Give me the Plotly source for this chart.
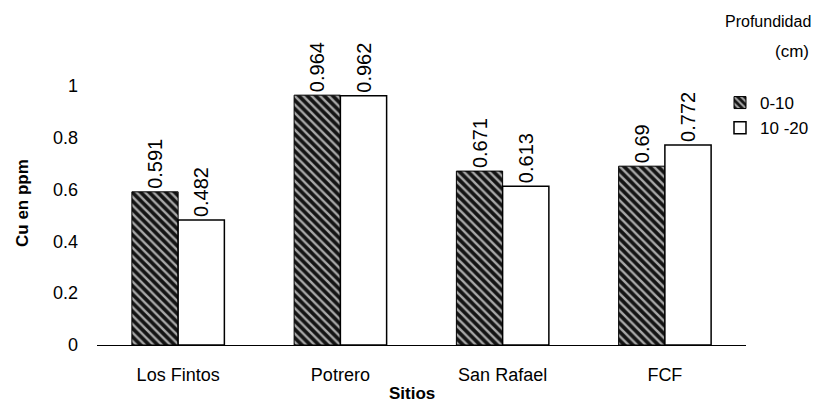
import plotly.graph_objects as go

sitios = ["Los Fintos", "Potrero", "San Rafael", "FCF"]
prof_0_10 = [0.591, 0.964, 0.671, 0.69]
prof_10_20 = [0.482, 0.962, 0.613, 0.772]
y_ticks = [0, 0.2, 0.4, 0.6, 0.8, 1]
y_tick_text = ["0", "0.2", "0.4", "0.6", "0.8", "1"]

font_family = "Liberation Sans, Arial, sans-serif"
W, H = 816, 406
ML, MR, MT, MB = 97, 70, 34, 61
plot_w = W - ML - MR
plot_h = H - MT - MB


def px_x(x):
    return (x - ML) / plot_w


def px_y(y):
    return (H - MB - y) / plot_h


fig = go.Figure()
fig.add_trace(go.Bar(
    x=sitios, y=prof_0_10, name="0-10",
    text=[f"{v:g}" for v in prof_0_10], textposition="outside", textangle=-90,
    cliponaxis=False, constraintext="none",
    textfont=dict(size=20, color="black", family=font_family),
    marker=dict(color="#111111",
                pattern=dict(shape="\\", bgcolor="#141414", fgcolor="#a8a8a8",
                             size=6, solidity=0.4, fillmode="replace"),
                line=dict(color="black", width=1)),
))
fig.add_trace(go.Bar(
    x=sitios, y=prof_10_20, name="10 -20",
    text=[f"{v:g}" for v in prof_10_20], textposition="outside", textangle=-90,
    cliponaxis=False, constraintext="none",
    textfont=dict(size=20, color="black", family=font_family),
    marker=dict(color="white", line=dict(color="black", width=1.5)),
))

fig.update_layout(
    width=W, height=H,
    margin=dict(l=ML, r=MR, t=MT, b=MB, autoexpand=False),
    paper_bgcolor="white", plot_bgcolor="white",
    barmode="group", bargap=0.43, bargroupgap=0,
    font=dict(family=font_family, size=18, color="black"),
    showlegend=True,
    legend=dict(x=px_x(720), y=px_y(85), xanchor="left", yanchor="top",
                font=dict(size=17, family=font_family),
                itemwidth=30, bgcolor="rgba(0,0,0,0)"),
    xaxis=dict(showline=True, linecolor="black", linewidth=1, ticks="",
               ticklabelstandoff=13, tickfont=dict(size=18)),
    yaxis=dict(range=[0, 1.2], tickvals=y_ticks, ticktext=y_tick_text,
               showgrid=False, zeroline=False, showline=False, ticks="",
               ticklabelstandoff=18, tickfont=dict(size=18)),
)

fig.add_annotation(text="Profundidad", x=px_x(768), y=px_y(22),
                   xref="paper", yref="paper", showarrow=False,
                   font=dict(size=16), xanchor="center", yanchor="middle")
fig.add_annotation(text="(cm)", x=px_x(792), y=px_y(52),
                   xref="paper", yref="paper", showarrow=False,
                   font=dict(size=17), xanchor="center", yanchor="middle")
fig.add_annotation(text="<b>Sitios</b>", x=px_x(412), y=px_y(393),
                   xref="paper", yref="paper", showarrow=False,
                   font=dict(size=17), xanchor="center", yanchor="middle")
fig.add_annotation(text="<b>Cu en ppm</b>", x=px_x(22), y=px_y(203),
                   xref="paper", yref="paper", showarrow=False, textangle=-90,
                   font=dict(size=17), xanchor="center", yanchor="middle")

fig.write_html("out.html", config={"displayModeBar": False},
               post_script="document.body.style.margin='0';document.body.style.overflow='hidden';")
